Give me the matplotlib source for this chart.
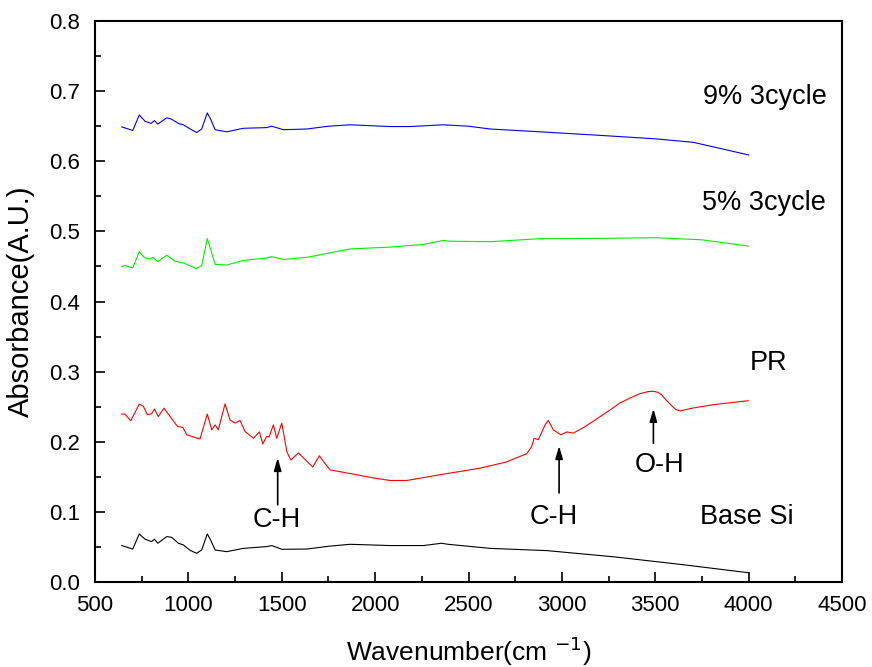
import matplotlib
matplotlib.use("Agg")
import matplotlib.pyplot as plt
from matplotlib.ticker import MultipleLocator, FormatStrFormatter

plt.rcParams["font.family"] = ["Liberation Sans", "DejaVu Sans"]

# Base Si (black)
base_wn = [643, 702, 737, 768, 803, 818, 836, 884, 910, 946, 973, 1010, 1044, 1071,
           1101, 1119, 1143, 1205, 1294, 1419, 1446, 1500, 1634, 1750, 1866, 2080,
           2258, 2356, 2390, 2615, 2919, 3276, 3633, 3998]
base_ab = [0.052, 0.047, 0.0686, 0.061, 0.0576, 0.061, 0.0553, 0.0648, 0.0638, 0.0553,
           0.0529, 0.045, 0.041, 0.0457, 0.0686, 0.060, 0.0457, 0.0433, 0.048, 0.0505,
           0.052, 0.0467, 0.047, 0.051, 0.0538, 0.052, 0.052, 0.0553, 0.0538, 0.048,
           0.0448, 0.036, 0.0252, 0.0133]

# PR (red)
pr_wn = [643, 660, 691, 737, 759, 780, 803, 818, 839, 869, 902, 941, 970, 991, 1062,
         1101, 1125, 1143, 1160, 1196, 1223, 1250, 1276, 1303, 1348, 1380, 1398, 1419,
         1432, 1455, 1473, 1500, 1527, 1548, 1589, 1616, 1666, 1701, 1723, 1758, 1901,
         2000, 2080, 2169, 2347, 2562, 2700, 2812, 2838, 2851, 2874, 2910, 2927, 2954,
         2994, 3026, 3061, 3120, 3186, 3250, 3311, 3370, 3418, 3460, 3490, 3515, 3534,
         3560, 3588, 3610, 3633, 3700, 3811, 3998]
pr_ab = [0.2395, 0.2395, 0.230, 0.2538, 0.2505, 0.2386, 0.240, 0.2467, 0.236, 0.248,
         0.236, 0.222, 0.2205, 0.210, 0.204, 0.2395, 0.217, 0.224, 0.217, 0.254, 0.231,
         0.2267, 0.2305, 0.2148, 0.205, 0.214, 0.197, 0.2076, 0.207, 0.224, 0.205,
         0.2267, 0.186, 0.174, 0.184, 0.177, 0.164, 0.180, 0.172, 0.160, 0.153, 0.148,
         0.1448, 0.1448, 0.153, 0.1624, 0.171, 0.183, 0.193, 0.205, 0.203, 0.224,
         0.2305, 0.217, 0.210, 0.214, 0.2124, 0.221, 0.2324, 0.244, 0.2553, 0.263,
         0.2686, 0.2715, 0.272, 0.2705, 0.267, 0.259, 0.2514, 0.246, 0.244, 0.248,
         0.2529, 0.2586]

# 5% 3cycle (green)
g5_wn = [643, 660, 702, 737, 765, 795, 812, 821, 836, 884, 928, 973, 1010, 1041, 1071,
         1101, 1119, 1143, 1205, 1294, 1419, 1446, 1508, 1634, 1750, 1866, 2080, 2258,
         2365, 2400, 2615, 2883, 3200, 3500, 3750, 3998]
g5_ab = [0.4495, 0.4514, 0.448, 0.471, 0.4624, 0.461, 0.463, 0.460, 0.457, 0.466,
         0.4576, 0.455, 0.451, 0.447, 0.451, 0.490, 0.474, 0.453, 0.452, 0.4586, 0.462,
         0.464, 0.460, 0.463, 0.469, 0.475, 0.4776, 0.4814, 0.487, 0.486, 0.4853,
         0.4896, 0.490, 0.491, 0.488, 0.479]

# 9% 3cycle (blue)
g9_wn = [643, 702, 737, 768, 800, 818, 836, 884, 910, 946, 973, 1010, 1044, 1071, 1101,
         1119, 1143, 1205, 1294, 1419, 1446, 1508, 1634, 1750, 1866, 2080, 2187, 2365,
         2500, 2615, 2883, 3200, 3500, 3704, 4000]
g9_ab = [0.649, 0.644, 0.666, 0.657, 0.654, 0.658, 0.653, 0.662, 0.660, 0.654, 0.652,
         0.646, 0.641, 0.646, 0.669, 0.660, 0.645, 0.642, 0.647, 0.648, 0.650, 0.645,
         0.646, 0.650, 0.652, 0.6495, 0.6495, 0.652, 0.650, 0.646, 0.642, 0.637, 0.632,
         0.627, 0.609]

series_labels = [("9% 3cycle", 3754, 0.691), ("5% 3cycle", 3749, 0.541),
                 ("PR", 4007, 0.312), ("Base Si", 3740, 0.093)]
# (text, x_tip, y_tip, y_tail, x_text, y_text)
peaks = [("C-H", 1478, 0.177, 0.110, 1473, 0.089),
         ("C-H", 2985, 0.194, 0.127, 2958, 0.093),
         ("O-H", 3490, 0.247, 0.198, 3525, 0.167)]

fig = plt.figure(figsize=(8.72, 6.67), dpi=100)
ax = fig.add_axes([0.109, 0.1274, 0.8566, 0.8411])

ax.plot(base_wn, base_ab, color="black", lw=0.8)
ax.plot(pr_wn, pr_ab, color="#ff0000", lw=0.8)
ax.plot(g5_wn, g5_ab, color="#00ee00", lw=0.8)
ax.plot(g9_wn, g9_ab, color="#0000ff", lw=0.8)

for txt, x, y in series_labels:
    ax.text(x, y, txt, fontsize=19.5, ha="left", va="center")

for txt, xt, yt, ytail, xl, yl in peaks:
    ax.annotate("", xy=(xt, yt), xytext=(xt, ytail),
                arrowprops=dict(arrowstyle="-|>,head_length=0.75,head_width=0.22",
                                color="black", lw=1.2, mutation_scale=10,
                                shrinkA=0, shrinkB=0))
    ax.text(xl, yl, txt, fontsize=19.5, ha="center", va="center")

ax.set_xlim(500, 4500)
ax.set_ylim(0.0, 0.8)
ax.xaxis.set_major_locator(MultipleLocator(500))
ax.xaxis.set_minor_locator(MultipleLocator(250))
ax.yaxis.set_major_locator(MultipleLocator(0.1))
ax.yaxis.set_minor_locator(MultipleLocator(0.05))
ax.yaxis.set_major_formatter(FormatStrFormatter("%.1f"))
ax.tick_params(which="both", direction="in", top=False, right=False,
               labelsize=16, width=1.2)
ax.tick_params(axis="x", pad=9)
ax.tick_params(axis="y", pad=11)
ax.tick_params(which="major", length=7)
ax.tick_params(which="minor", length=4)
for sp in ax.spines.values():
    sp.set_linewidth(1.5)

ax.set_xlabel(r"Wavenumber(cm $^{-1}$)", fontsize=19, labelpad=14)
ax.set_ylabel("Absorbance(A.U.)", fontsize=21, labelpad=10)

fig.savefig("out.png", dpi=100)
